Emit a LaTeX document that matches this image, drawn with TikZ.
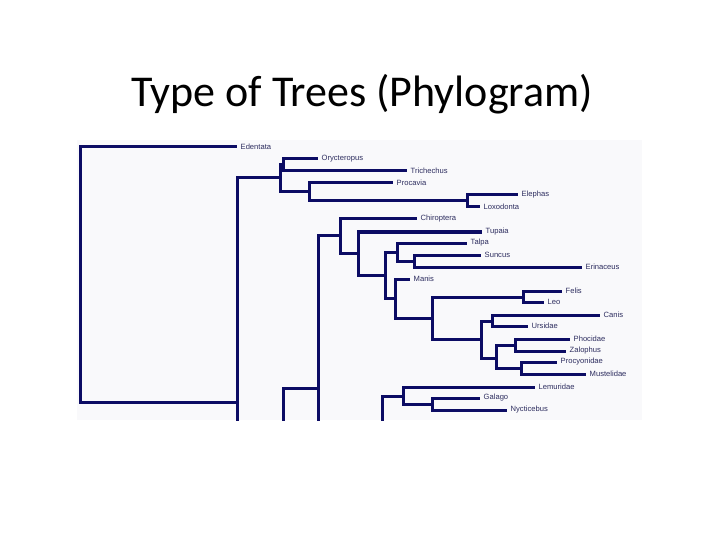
\documentclass[tikz,border=0pt]{standalone}
\usepackage{fontspec}
\setmainfont{Carlito}
\newfontfamily\labfont{Liberation Sans}
\definecolor{treeline}{RGB}{12,12,100}
\definecolor{labcol}{RGB}{45,45,95}
\definecolor{panel}{RGB}{249,249,251}
\begin{document}
\begin{tikzpicture}[x=1pt,y=-1pt,
  br/.style={draw=treeline,line width=3pt,line join=miter},
  tip/.style={anchor=west,inner xsep=3.5pt,inner ysep=0pt,font=\labfont\fontsize{7.6}{8}\selectfont,text=labcol},
  ttl/.style={anchor=base,inner sep=0pt,font=\fontsize{44}{48}\selectfont}]
\useasboundingbox (0,0) rectangle (720,540);
\node[ttl] (title) at (362,107) {Type of Trees (Phylogram)};
\fill[panel] (77,140) rectangle (642,420);
% tips
\node[tip] (Edentata) at (237,147) {Edentata};
\node[tip] (Orycteropus) at (318,159) {Orycteropus};
\node[tip] (Trichechus) at (407,171) {Trichechus};
\node[tip] (Procavia) at (393,183) {Procavia};
\node[tip] (Elephas) at (518,195) {Elephas};
\node[tip] (Loxodonta) at (480,207) {Loxodonta};
\node[tip] (Chiroptera) at (417,219) {Chiroptera};
\node[tip] (Tupaia) at (482,232) {Tupaia};
\node[tip] (Talpa) at (467,243) {Talpa};
\node[tip] (Suncus) at (481,255) {Suncus};
\node[tip] (Erinaceus) at (582,267) {Erinaceus};
\node[tip] (Manis) at (410,279) {Manis};
\node[tip] (Felis) at (562,291) {Felis};
\node[tip] (Leo) at (544,302) {Leo};
\node[tip] (Canis) at (600,315) {Canis};
\node[tip] (Ursidae) at (528,326) {Ursidae};
\node[tip] (Phocidae) at (570,339) {Phocidae};
\node[tip] (Zalophus) at (566,351) {Zalophus};
\node[tip] (Procyonidae) at (557,362) {Procyonidae};
\node[tip] (Mustelidae) at (586,374) {Mustelidae};
\node[tip] (Lemuridae) at (535,387) {Lemuridae};
\node[tip] (Galago) at (480,398) {Galago};
\node[tip] (Nycticebus) at (507,410) {Nycticebus};
% internal nodes
\coordinate (n80) at (80,275);
\coordinate (n237) at (237,402);
\coordinate (nB) at (280,178);
\coordinate (nA) at (283,165);
\coordinate (nC) at (309,192);
\coordinate (n467) at (467,201);
\coordinate (n283) at (283,450);
\coordinate (n318) at (318,388);
\coordinate (h318) at (330,470);
\coordinate (n340) at (340,235);
\coordinate (n358) at (358,253);
\coordinate (n385) at (385,275);
\coordinate (n397) at (397,252);
\coordinate (n414) at (414,261);
\coordinate (n395) at (395,298);
\coordinate (n432) at (432,318);
\coordinate (n523) at (523,297);
\coordinate (n481) at (481,339);
\coordinate (n492) at (492,321);
\coordinate (n496) at (496,358);
\coordinate (n515) at (515,345);
\coordinate (n521) at (521,368);
\coordinate (n382) at (382,440);
\coordinate (n403) at (403,396);
\coordinate (n432b) at (432,404);
\begin{scope}
\clip (77,140) rectangle (642,420);
\draw[br] (n80) |- (Edentata.west);
\draw[br] (n80) |- (n237);
\draw[br] (n237) |- (nB);
\draw[br] (n237) |- (n283);
\draw[br] (nB) |- (nA);
\draw[br] (nB) |- (nC);
\draw[br] (nA) |- (Orycteropus.west);
\draw[br] (nA) |- (Trichechus.west);
\draw[br] (nC) |- (Procavia.west);
\draw[br] (nC) |- (n467);
\draw[br] (n467) |- (Elephas.west);
\draw[br] (n467) |- (Loxodonta.west);
\draw[br] (n283) |- (n318);
\draw[br] (n318) |- (n340);
\draw[br] (n318) |- (h318);
\draw[br] (n340) |- (Chiroptera.west);
\draw[br] (n340) |- (n358);
\draw[br] (n358) |- (Tupaia.west);
\draw[br] (n358) |- (n385);
\draw[br] (n385) |- (n397);
\draw[br] (n385) |- (n395);
\draw[br] (n397) |- (Talpa.west);
\draw[br] (n397) |- (n414);
\draw[br] (n414) |- (Suncus.west);
\draw[br] (n414) |- (Erinaceus.west);
\draw[br] (n395) |- (Manis.west);
\draw[br] (n395) |- (n432);
\draw[br] (n432) |- (n523);
\draw[br] (n432) |- (n481);
\draw[br] (n523) |- (Felis.west);
\draw[br] (n523) |- (Leo.west);
\draw[br] (n481) |- (n492);
\draw[br] (n481) |- (n496);
\draw[br] (n492) |- (Canis.west);
\draw[br] (n492) |- (Ursidae.west);
\draw[br] (n496) |- (n515);
\draw[br] (n496) |- (n521);
\draw[br] (n515) |- (Phocidae.west);
\draw[br] (n515) |- (Zalophus.west);
\draw[br] (n521) |- (Procyonidae.west);
\draw[br] (n521) |- (Mustelidae.west);
\draw[br] (n382) |- (n403);
\draw[br] (n403) |- (Lemuridae.west);
\draw[br] (n403) |- (n432b);
\draw[br] (n432b) |- (Galago.west);
\draw[br] (n432b) |- (Nycticebus.west);
\end{scope}
\end{tikzpicture}
\end{document}
